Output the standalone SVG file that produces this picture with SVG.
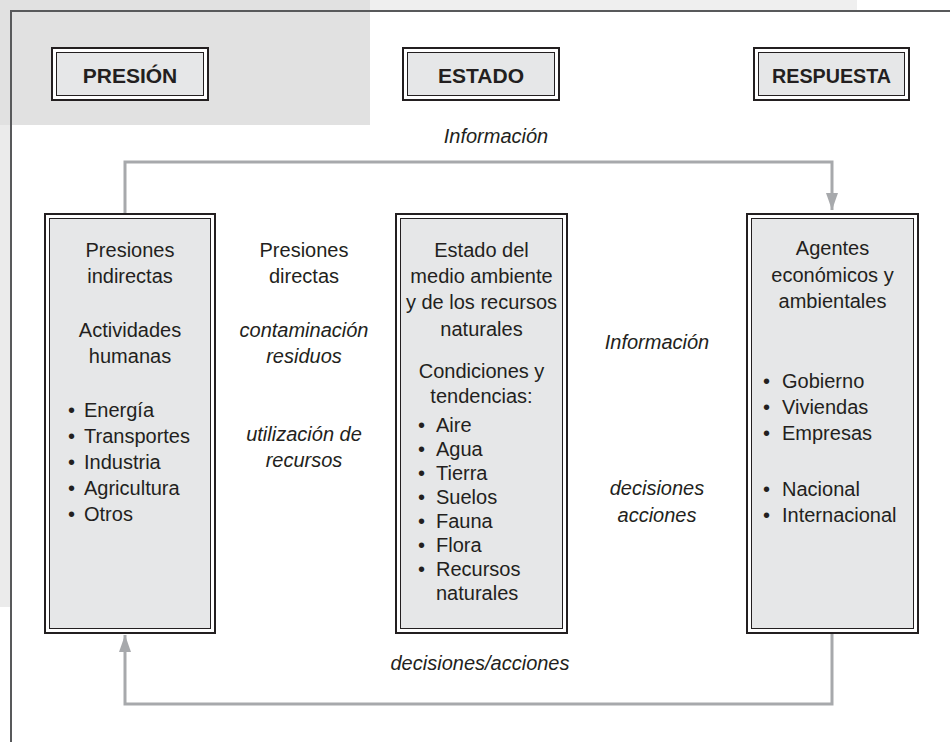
<svg xmlns="http://www.w3.org/2000/svg" width="950" height="742" viewBox="0 0 950 742">
<defs>
<style>
text{font-family:"Liberation Sans",Arial,sans-serif;font-size:20px;fill:#231f20}
.c{text-anchor:middle}
.h{font-weight:bold;font-size:21px;text-anchor:middle}
.i{font-style:italic;text-anchor:middle}
.outer{fill:#fff;stroke:#231f20;stroke-width:2}
.inner{fill:#e6e7e8;stroke:#231f20;stroke-width:1}
.conn{fill:none;stroke:#a7a9ac;stroke-width:3}
</style>
<marker id="ah" viewBox="0 0 17 12" refX="17" refY="6" markerWidth="17" markerHeight="12" markerUnits="userSpaceOnUse" orient="auto">
<path d="M0,0 L17,6 L0,12 Z" fill="#a7a9ac"/>
</marker>
</defs>
<rect x="0" y="0" width="950" height="742" fill="#fff"/>
<rect x="370" y="0" width="487" height="11" fill="#efefef"/>
<rect x="0" y="125" width="11" height="482" fill="#ebebeb"/>
<rect x="0" y="0" width="370" height="125" fill="#e1e1e1"/>
<path d="M11,742 V11 H950" fill="none" stroke="#58595b" stroke-width="2"/>

<g id="presion-header">
<rect class="outer" x="52" y="48" width="156" height="52"/>
<rect class="inner" x="56.5" y="52.5" width="147" height="43"/>
<text class="h" x="130" y="83">PRESIÓN</text>
</g>
<g id="estado-header">
<rect class="outer" x="403" y="48" width="156" height="52"/>
<rect class="inner" x="407.5" y="52.5" width="147" height="43"/>
<text class="h" x="481" y="83">ESTADO</text>
</g>
<g id="respuesta-header">
<rect class="outer" x="754" y="48" width="155" height="52"/>
<rect class="inner" x="758.5" y="52.5" width="146" height="43"/>
<text class="h" x="831.5" y="83" textLength="119" lengthAdjust="spacingAndGlyphs">RESPUESTA</text>
</g>

<g id="connectors">
<path class="conn" d="M125,214 V162 H832 V210" marker-end="url(#ah)"/>
<path class="conn" d="M832,633 V704 H125 V635" marker-end="url(#ah)"/>
<text class="i" x="496" y="143">Información</text>
<text class="i" x="480" y="670">decisiones/acciones</text>
</g>

<g id="presion-box">
<rect class="outer" x="45" y="214" width="170" height="419"/>
<rect class="inner" x="49.5" y="218.5" width="161" height="410"/>
<text class="c" x="130" y="257">Presiones</text>
<text class="c" x="130" y="283">indirectas</text>
<text class="c" x="130" y="337">Actividades</text>
<text class="c" x="130" y="363">humanas</text>
<text x="68" y="417">•<tspan x="84">Energía</tspan></text>
<text x="68" y="443">•<tspan x="84">Transportes</tspan></text>
<text x="68" y="469">•<tspan x="84">Industria</tspan></text>
<text x="68" y="495">•<tspan x="84">Agricultura</tspan></text>
<text x="68" y="521">•<tspan x="84">Otros</tspan></text>
</g>

<g id="presiones-directas">
<text class="c" x="304" y="257">Presiones</text>
<text class="c" x="304" y="283">directas</text>
<text class="i" x="304" y="337">contaminación</text>
<text class="i" x="304" y="363">residuos</text>
<text class="i" x="304" y="441">utilización de</text>
<text class="i" x="304" y="467">recursos</text>
</g>

<g id="estado-box">
<rect class="outer" x="396" y="214" width="171" height="419"/>
<rect class="inner" x="400.5" y="218.5" width="162" height="410"/>
<text class="c" x="481.5" y="257">Estado del</text>
<text class="c" x="481.5" y="283">medio ambiente</text>
<text class="c" x="481.5" y="309">y de los recursos</text>
<text class="c" x="481.5" y="336">naturales</text>
<text class="c" x="481.5" y="378">Condiciones y</text>
<text class="c" x="481.5" y="403">tendencias:</text>
<text x="418" y="432">•<tspan x="436">Aire</tspan></text>
<text x="418" y="456">•<tspan x="436">Agua</tspan></text>
<text x="418" y="480">•<tspan x="436">Tierra</tspan></text>
<text x="418" y="504">•<tspan x="436">Suelos</tspan></text>
<text x="418" y="528">•<tspan x="436">Fauna</tspan></text>
<text x="418" y="552">•<tspan x="436">Flora</tspan></text>
<text x="418" y="576">•<tspan x="436">Recursos</tspan></text>
<text x="436" y="600">naturales</text>
</g>

<g id="info-decisiones">
<text class="i" x="657" y="349">Información</text>
<text class="i" x="657" y="495">decisiones</text>
<text class="i" x="657" y="522">acciones</text>
</g>

<g id="respuesta-box">
<rect class="outer" x="747" y="214" width="171" height="419"/>
<rect class="inner" x="751.5" y="218.5" width="162" height="410"/>
<text class="c" x="832.5" y="255">Agentes</text>
<text class="c" x="832.5" y="282">económicos y</text>
<text class="c" x="832.5" y="308">ambientales</text>
<text x="763" y="388">•<tspan x="782">Gobierno</tspan></text>
<text x="763" y="414">•<tspan x="782">Viviendas</tspan></text>
<text x="763" y="440">•<tspan x="782">Empresas</tspan></text>
<text x="763" y="496">•<tspan x="782">Nacional</tspan></text>
<text x="763" y="522">•<tspan x="782">Internacional</tspan></text>
</g>
</svg>
